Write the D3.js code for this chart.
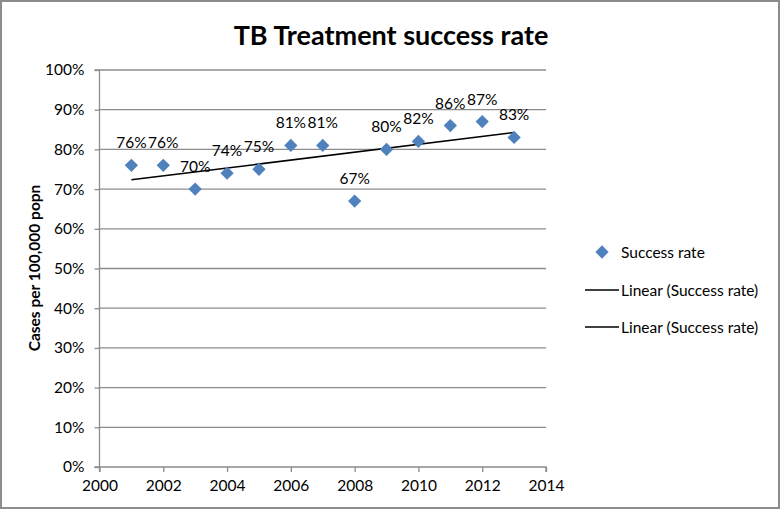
<!DOCTYPE html>
<html>
<head>
<meta charset="utf-8">
<script src="https://cdn.jsdelivr.net/npm/d3@7"></script>
<style>
html,body{margin:0;padding:0;background:#fff;}
svg{display:block;}
text{font-family:Lato,"Open Sans",sans-serif;}
</style>
</head>
<body>
<svg id="chart" width="781" height="510"></svg>
<script>
const years = [2001,2002,2003,2004,2005,2006,2007,2008,2009,2010,2011,2012,2013];
const successRate = [0.76,0.76,0.70,0.74,0.75,0.81,0.81,0.67,0.80,0.82,0.86,0.87,0.83];
const xTicks = [2000,2002,2004,2006,2008,2010,2012,2014];
const yTicks = [0,0.1,0.2,0.3,0.4,0.5,0.6,0.7,0.8,0.9,1.0];
const legendLabels = ["Success rate","Linear (Success rate)","Linear (Success rate)"];

(function(){
const svg = d3.select("#chart");
const W = 781, H = 510;
const pL = 99.5, pR = 546, pT = 70, pB = 467;
const FS = 15.5;

svg.append("rect").attr("x",1).attr("y",1).attr("width",W-3).attr("height",H-3)
  .attr("fill","#fff").attr("stroke","#8c8c8c").attr("stroke-width",2);

const x = d3.scaleLinear().domain([2000,2014]).range([pL,pR]);
const y = d3.scaleLinear().domain([0,1]).range([pB,pT]);

// gridlines
svg.append("g").selectAll("line").data(yTicks.filter(d=>d>0)).join("line")
  .attr("x1",pL).attr("x2",pR).attr("y1",d=>y(d)).attr("y2",d=>y(d))
  .attr("stroke","#8c8c8c").attr("stroke-width",1.3);

// y axis
const yAxis = d3.axisLeft(y).tickValues(yTicks).tickFormat(d3.format(".0%")).tickSize(5).tickPadding(10);
const gy = svg.append("g").attr("transform",`translate(${pL},0)`).call(yAxis);
gy.select(".domain").attr("stroke","#8c8c8c").attr("stroke-width",1.3).attr("d",`M-5,${pB}H0V${pT}H-5`);
gy.selectAll(".tick line").attr("stroke","#8c8c8c").attr("stroke-width",1.3);
gy.selectAll(".tick text").attr("font-size",FS).attr("fill","#000").style("font-family","Lato,sans-serif");

// x axis
const xAxis = d3.axisBottom(x).tickValues(xTicks).tickFormat(d3.format("d")).tickSize(5).tickPadding(8);
const gx = svg.append("g").attr("transform",`translate(0,${pB})`).call(xAxis);
gx.select(".domain").attr("stroke","#8c8c8c").attr("stroke-width",1.3).attr("d",`M${pL},5V0H${pR}V5`);
gx.selectAll(".tick line").attr("stroke","#8c8c8c").attr("stroke-width",1.3);
gx.selectAll(".tick text").attr("font-size",FS).attr("fill","#000").style("font-family","Lato,sans-serif");

// linear trend (least squares)
const mx = d3.mean(years), my = d3.mean(successRate);
const slope = d3.sum(years.map((v,i)=>(v-mx)*(successRate[i]-my))) / d3.sum(years.map(v=>(v-mx)*(v-mx)));
const icpt = my - slope*mx;
const x0 = d3.min(years), x1 = d3.max(years);
svg.append("line")
  .attr("x1",x(x0)).attr("y1",y(icpt+slope*x0))
  .attr("x2",x(x1)).attr("y2",y(icpt+slope*x1))
  .attr("stroke","#000").attr("stroke-width",1.5);

// markers
const diamond = d3.symbol().type(d3.symbolSquare).size(88);
svg.append("g").selectAll("path").data(years).join("path")
  .attr("d",diamond())
  .attr("transform",(d,i)=>`translate(${x(d)},${y(successRate[i])}) rotate(45)`)
  .attr("fill","#4f81bd");

// data labels
svg.append("g").selectAll("text").data(years).join("text")
  .attr("x",d=>x(d)).attr("y",(d,i)=>y(successRate[i])-17)
  .attr("text-anchor","middle").attr("font-size",FS).attr("fill","#000")
  .text((d,i)=>d3.format(".0%")(successRate[i]));

// title
svg.append("text").attr("x",391).attr("y",45).attr("text-anchor","middle")
  .attr("font-size",27).attr("font-weight","bold").attr("fill","#000")
  .text("TB Treatment success rate");

// y axis title
svg.append("text").attr("transform","translate(40,268) rotate(-90)")
  .attr("text-anchor","middle").attr("font-size",15.5).attr("font-weight","bold").attr("fill","#000")
  .text("Cases per 100,000 popn");

// legend
const lg = svg.append("g");
const ly = [252,290,327];
lg.append("path").attr("d",diamond()).attr("transform",`translate(602,${ly[0]}) rotate(45)`).attr("fill","#4f81bd");
[1,2].forEach(i=>{
  lg.append("line").attr("x1",585).attr("x2",619).attr("y1",ly[i]).attr("y2",ly[i])
    .attr("stroke","#000").attr("stroke-width",1.5);
});
legendLabels.forEach((t,i)=>{
  lg.append("text").attr("x",621).attr("y",ly[i]+5.5).attr("font-size",FS).attr("fill","#000").text(t);
});
})();
</script>
</body>
</html>
